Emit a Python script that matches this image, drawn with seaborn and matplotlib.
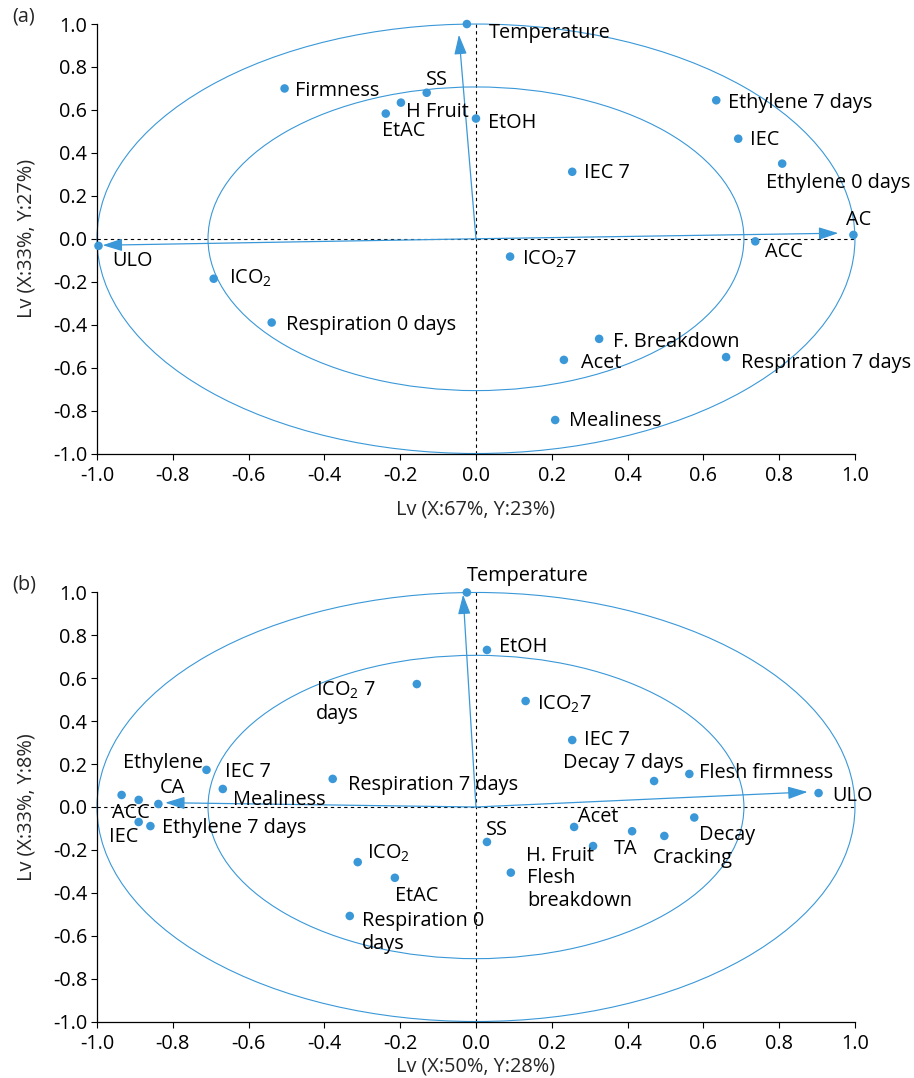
import numpy as np
import pandas as pd
import matplotlib
matplotlib.use("Agg")
import matplotlib.pyplot as plt
import matplotlib.ticker as mticker
from matplotlib.patches import Ellipse
import seaborn as sns

BLUE = "#3A98D8"
FONT = "Open Sans"
FS = 14.3

# ---- panel (a) loadings ----
A_LABELS = ["Temperature", "Firmness", "SS", "H Fruit", "EtAC", "EtOH", "IEC 7",
            "Ethylene 7 days", "IEC", "Ethylene 0 days", "AC", "ACC", "ICO$_2$7",
            "F. Breakdown", "Acet", "Respiration 7 days", "Mealiness", "ULO",
            "ICO$_2$", "Respiration 0 days"]
A_X = [-0.024, -0.505, -0.13, -0.198, -0.238, 0.0, 0.254,
       0.634, 0.692, 0.808, 0.996, 0.737, 0.09,
       0.325, 0.232, 0.66, 0.209, -0.996,
       -0.692, -0.539]
A_Y = [1.0, 0.70, 0.68, 0.634, 0.583, 0.56, 0.312,
       0.645, 0.466, 0.35, 0.018, -0.012, -0.083,
       -0.466, -0.564, -0.551, -0.844, -0.033,
       -0.186, -0.39]
A_ARROW_X = [-0.045, 0.956, -0.985]
A_ARROW_Y = [0.95, 0.026, -0.03]
A_XLABEL = "Lv (X:67%, Y:23%)"
A_YLABEL = "Lv (X:33%, Y:27%)"

# ---- panel (b) loadings ----
B_LABELS = ["Temperature", "EtOH", "ICO$_2$ 7\ndays", "ICO$_2$7", "IEC 7",
            "Decay 7 days", "Flesh firmness", "ULO", "Respiration 7 days", "Acet",
            "SS", "H. Fruit", "TA", "Cracking", "Decay", "Flesh\nbreakdown",
            "ICO$_2$", "EtAC", "Respiration 0\ndays", "Ethylene", "IEC 7",
            "Mealiness", "CA", "ACC", "IEC", "Ethylene 7 days"]
B_X = [-0.024, 0.029, -0.156, 0.131, 0.254,
       0.47, 0.563, 0.904, -0.378, 0.259,
       0.029, 0.309, 0.412, 0.497, 0.576, 0.092,
       -0.312, -0.214, -0.333, -0.711, -0.668,
       -0.89, -0.838, -0.935, -0.89, -0.859]
B_Y = [1.0, 0.732, 0.573, 0.494, 0.312,
       0.121, 0.154, 0.065, 0.131, -0.093,
       -0.163, -0.182, -0.113, -0.135, -0.049, -0.306,
       -0.257, -0.33, -0.508, 0.173, 0.084,
       0.033, 0.014, 0.056, -0.07, -0.089]
B_ARROW_X = [-0.034, 0.875, -0.82]
B_ARROW_Y = [0.99, 0.07, 0.02]
B_XLABEL = "Lv (X:50%, Y:28%)"
B_YLABEL = "Lv (X:33%, Y:8%)"

TICKS = [-1.0, -0.8, -0.6, -0.4, -0.2, 0.0, 0.2, 0.4, 0.6, 0.8, 1.0]
TICK_LABELS = ["-1.0", "-0.8", "-0.6", "-0.4", "-0.2", "0.0",
               "0.2", "0.4", "0.6", "0.8", "1.0"]
RADII = [1.0, 0.707]

# label placement (pixels right / down of the point)
A_OFFSETS = [(22, 9), (10, 3), (-1, -13), (5, 9), (-4, 17), (12, 4), (12, 1),
             (12, 3), (12, 1), (-16, 19), (-7, -15), (10, 11), (12, 3),
             (14, 3), (17, 3), (15, 6), (14, 1), (14, 15),
             (15, 0), (14, 2)]
B_OFFSETS = [(0, -16), (12, -3), (-101, 18), (11, 3), (12, 0),
             (-91, -18), (10, -1), (14, 3), (15, 6), (4, -10),
             (-1, -12), (-67, 10), (-18, 18), (-12, 22), (5, 17), (16, 17),
             (9, -9), (0, 18), (12, 17), (-84, -7), (2, -17),
             (94, 0), (1, -16), (-10, 18), (-30, 15), (12, 2)]

sns.set_theme(style="ticks")
plt.rcParams.update({
    "font.family": [FONT, "DejaVu Sans"],
    "font.size": FS,
    "mathtext.fontset": "custom",
    "mathtext.rm": FONT,
    "mathtext.it": FONT,
    "mathtext.bf": FONT,
    "axes.unicode_minus": False,
    "axes.edgecolor": "black",
    "axes.linewidth": 0.9,
    "xtick.color": "black",
    "ytick.color": "black",
    "xtick.major.size": 4,
    "ytick.major.size": 4,
    "xtick.major.width": 0.8,
    "ytick.major.width": 0.8,
    "xtick.major.pad": 5,
    "ytick.major.pad": 3,
})
PX = 72 / 100  # pixel -> points at dpi 100


def draw_panel(ax, labels, xs, ys, offsets, ax_x, ax_y, xlabel, ylabel, letter,
               xpad=10):
    df = pd.DataFrame({"x": xs, "y": ys, "label": labels})
    ax.axhline(0, color="black", lw=0.8, ls=(0, (3, 3)), zorder=1)
    ax.axvline(0, color="black", lw=0.8, ls=(0, (3, 3)), zorder=1)
    for r in RADII:
        ax.add_patch(Ellipse((0, 0), 2 * r, 2 * r, fill=False, ec=BLUE,
                             lw=0.8, clip_on=False, zorder=2))
    for tx, ty in zip(ax_x, ax_y):
        ax.annotate("", xy=(tx, ty), xytext=(0, 0),
                    arrowprops=dict(arrowstyle="-|>,head_length=1.0,head_width=0.32",
                                    mutation_scale=12, lw=0.9, color=BLUE,
                                    shrinkA=0, shrinkB=0), zorder=3)
    sns.scatterplot(data=df, x="x", y="y", ax=ax, color=BLUE, s=38,
                    edgecolor="none", clip_on=False, zorder=4, legend=False)
    for lab, x, y, (dx, dy) in zip(labels, xs, ys, offsets):
        ax.annotate(lab, xy=(x, y), xytext=(dx * PX, -dy * PX),
                    textcoords="offset points", ha="left", va="center",
                    fontsize=FS, color="black", zorder=5, linespacing=1.2)
    ax.set_xlim(-1, 1)
    ax.set_ylim(-1, 1)
    ax.xaxis.set_major_locator(mticker.FixedLocator(TICKS))
    ax.yaxis.set_major_locator(mticker.FixedLocator(TICKS))
    ax.set_xticklabels(TICK_LABELS, fontsize=FS)
    ax.set_yticklabels(TICK_LABELS, fontsize=FS)
    ax.set_xlabel(xlabel, fontsize=FS, labelpad=xpad)
    ax.set_ylabel(ylabel, fontsize=FS, labelpad=12)
    sns.despine(ax=ax)
    ax.text(-0.112, 1.018, letter, transform=ax.transAxes, fontsize=FS,
            ha="left", va="center")


fig = plt.figure(figsize=(9.14, 10.78), dpi=100)
ax_a = fig.add_axes([0.1061, 0.5793, 0.8293, 0.3984])
ax_b = fig.add_axes([0.1061, 0.0524, 0.8293, 0.3980])

draw_panel(ax_a, A_LABELS, A_X, A_Y, A_OFFSETS, A_ARROW_X, A_ARROW_Y,
           A_XLABEL, A_YLABEL, "(a)")
draw_panel(ax_b, B_LABELS, B_X, B_Y, B_OFFSETS, B_ARROW_X, B_ARROW_Y,
           B_XLABEL, B_YLABEL, "(b)", xpad=2)

fig.savefig("out.png", dpi=100)
